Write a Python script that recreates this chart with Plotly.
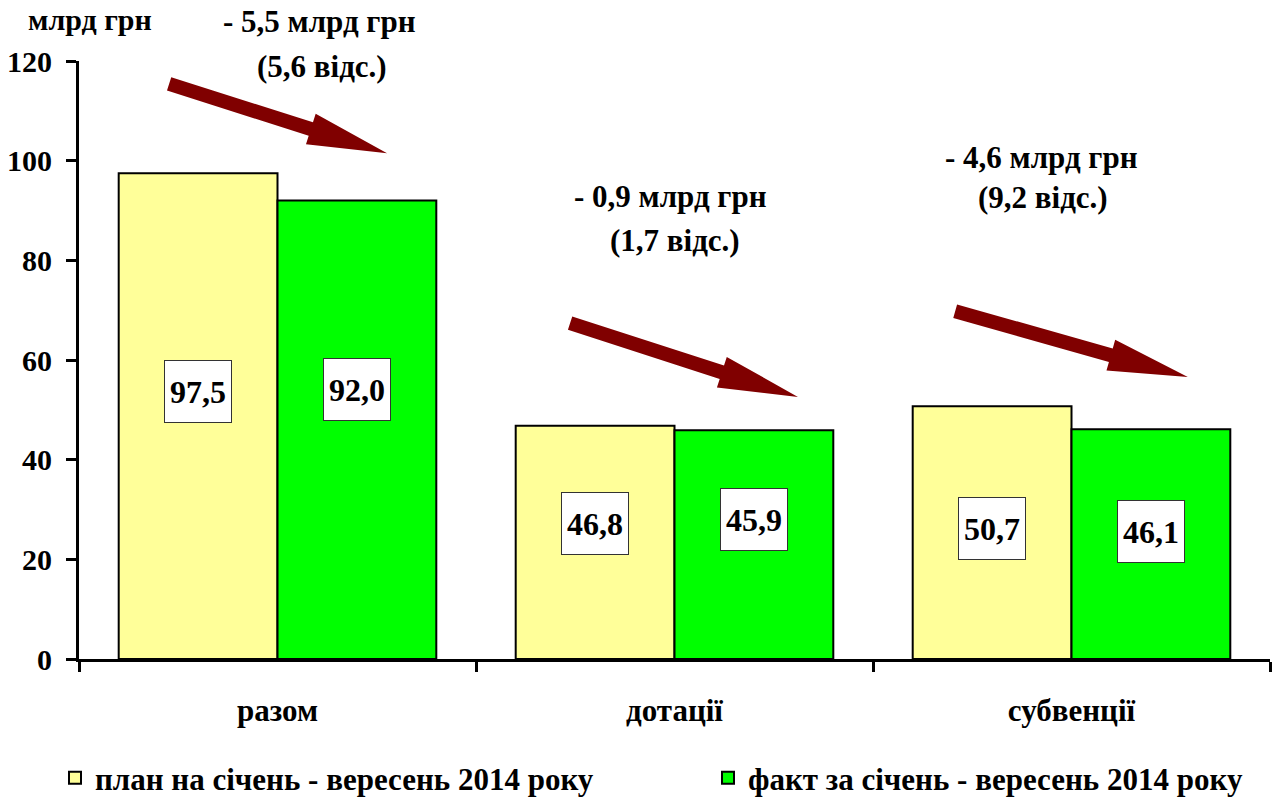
import plotly.graph_objects as go

# ---- data ----
categories = ["разом", "дотації", "субвенції"]
plan_values = [97.5, 46.8, 50.7]
fact_values = [92.0, 45.9, 46.1]
series_names = ["план на січень - вересень 2014 року", "факт за січень - вересень 2014 року"]
change_lines1 = ["- 5,5 млрд грн", "- 0,9 млрд грн", "- 4,6 млрд грн"]
change_lines2 = ["(5,6 відс.)", "(1,7 відс.)", "(9,2 відс.)"]
unit_label = "млрд грн"
y_ticks = [0, 20, 40, 60, 80, 100, 120]
# arrow tail / tip in data coords (category index, value)
arrow_tails = [(-0.273, 115.4), (0.737, 67.4), (1.707, 69.8)]
arrow_tips = [(0.276, 101.5), (1.311, 52.6), (2.293, 56.6)]
# label vertical position (value units) for each bar's value box
box_y = [53.6, 54.0, 27.1, 27.9, 26.1, 25.5]
# change-label positions in pixels (centre x, centre y) of each line
label_px1 = [(319, 22), (670, 197), (1041, 157)]
label_px2 = [(322, 66), (675, 240), (1043, 198)]

FONT = "Liberation Serif"
W, H = 1272, 798
ML, MR, MT, MB = 79, 2, 61, 139
PW, PH = W - ML - MR, H - MT - MB
XR = (-0.5, 2.5)
YR = (0, 120)

def to_px(x, y):
    return (ML + (x - XR[0]) / (XR[1] - XR[0]) * PW,
            MT + (YR[1] - y) / (YR[1] - YR[0]) * PH)

def to_data(px, py):
    return (XR[0] + (px - ML) / PW * (XR[1] - XR[0]),
            YR[1] - (py - MT) / PH * (YR[1] - YR[0]))

def to_paper(px, py):
    return ((px - ML) / PW, (MT + PH - py) / PH)

def arrow_path(tail, tip, shaft=14, head_w=32, head_l=80):
    tx, ty = to_px(*tail)
    hx, hy = to_px(*tip)
    dx, dy = hx - tx, hy - ty
    L = (dx * dx + dy * dy) ** 0.5
    ux, uy = dx / L, dy / L
    nx, ny = -uy, ux
    bx, by = hx - ux * head_l, hy - uy * head_l
    pts = [
        (tx + nx * shaft / 2, ty + ny * shaft / 2),
        (bx + nx * shaft / 2, by + ny * shaft / 2),
        (bx + nx * head_w / 2, by + ny * head_w / 2),
        (hx, hy),
        (bx - nx * head_w / 2, by - ny * head_w / 2),
        (bx - nx * shaft / 2, by - ny * shaft / 2),
        (tx - nx * shaft / 2, ty - ny * shaft / 2),
    ]
    d = []
    for i, (px, py) in enumerate(pts):
        x, y = to_data(px, py)
        d.append(("M" if i == 0 else "L") + f"{x:.5f},{y:.5f}")
    return " ".join(d) + " Z"

bold = lambda s: dict(family=FONT, size=s, color="black", weight="bold")

fig = go.Figure()
fig.add_trace(go.Bar(x=categories, y=plan_values, name=series_names[0], legend="legend",
                     marker=dict(color="#FFFF99", line=dict(color="black", width=2))))
fig.add_trace(go.Bar(x=categories, y=fact_values, name=series_names[1], legend="legend2",
                     marker=dict(color="#00FF00", line=dict(color="black", width=2))))

annotations = []
# value boxes
k = 0
for i, (p, f) in enumerate(zip(plan_values, fact_values)):
    for val, off in ((p, -0.2), (f, 0.2)):
        annotations.append(dict(
            x=i + off, y=box_y[k], xref="x", yref="y",
            text=f"{val:.1f}".replace(".", ","), showarrow=False,
            font=bold(32),
            bgcolor="white", bordercolor="#333333", borderwidth=1,
            width=64, height=59))
        k += 1
# change labels
for (t1, t2, p1, p2) in zip(change_lines1, change_lines2, label_px1, label_px2):
    for t, p in ((t1, p1), (t2, p2)):
        px, py = to_paper(*p)
        annotations.append(dict(x=px, y=py, xref="paper", yref="paper", text=t,
                                xanchor="center", yanchor="middle",
                                showarrow=False, font=bold(31)))
# unit label
ux, uy = to_paper(90, 20)
annotations.append(dict(x=ux, y=uy, xref="paper", yref="paper",
                        xanchor="center", yanchor="middle",
                        text=unit_label, showarrow=False, font=bold(30)))

shapes = [dict(type="path", path=arrow_path(t, h), xref="x", yref="y",
               fillcolor="#800000", line=dict(width=0))
          for t, h in zip(arrow_tails, arrow_tips)]

lx1, ly = to_paper(55, 778)
lx2, _ = to_paper(708, 778)
fig.update_layout(
    width=W, height=H,
    margin=dict(l=ML, r=MR, t=MT, b=MB, autoexpand=False),
    paper_bgcolor="white", plot_bgcolor="white",
    barmode="group", bargap=0.2, bargroupgap=0,
    font=dict(family=FONT, color="black"),
    showlegend=True,
    legend=dict(orientation="h", x=lx1, xanchor="left", y=ly, yanchor="middle",
                font=bold(31), itemclick=False, itemdoubleclick=False),
    legend2=dict(orientation="h", x=lx2, xanchor="left", y=ly, yanchor="middle",
                 font=bold(31), itemclick=False, itemdoubleclick=False),
    annotations=annotations,
    shapes=shapes,
)
fig.update_xaxes(type="category", range=list(XR), showline=True, linecolor="black",
                 linewidth=3, ticks="outside", ticklen=10, tickwidth=3,
                 tickcolor="black", tickson="boundaries", showgrid=False,
                 tickfont=bold(31), ticklabelstandoff=22)
fig.update_yaxes(range=list(YR), tickvals=y_ticks, showline=True, linecolor="black",
                 linewidth=3, ticks="outside", ticklen=10, tickwidth=3,
                 tickcolor="black", showgrid=False, zeroline=False,
                 tickfont=bold(30), ticklabelstandoff=8)

fig.write_html("out.html", config={"displayModeBar": False},
               post_script="document.body.style.margin='0';")
